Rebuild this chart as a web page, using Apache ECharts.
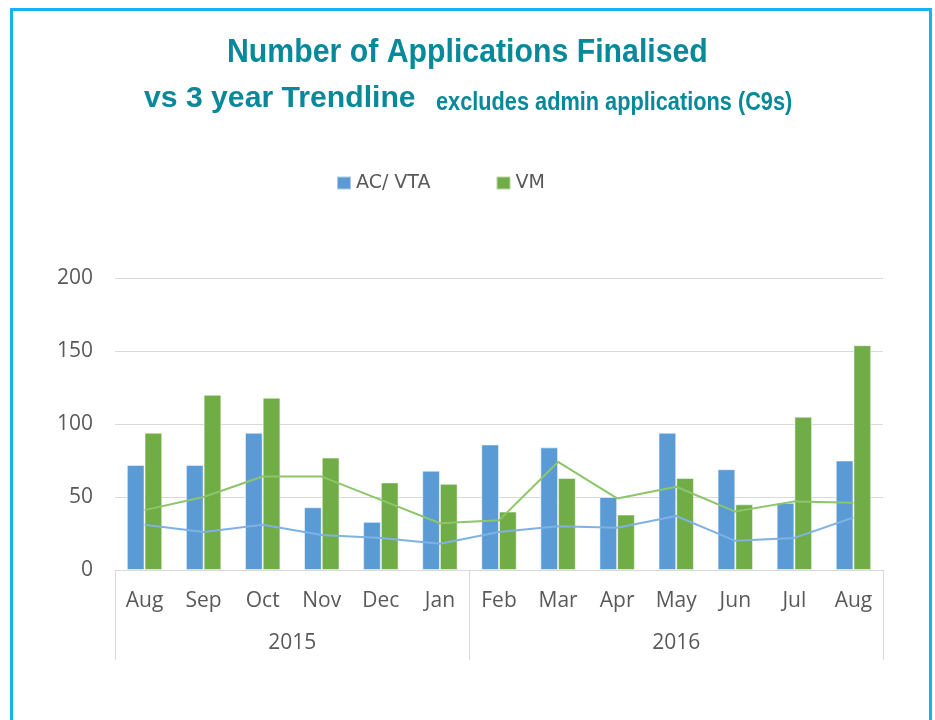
<!DOCTYPE html>
<html>
<head>
<meta charset="utf-8">
<script src="https://cdn.jsdelivr.net/npm/echarts@6/dist/echarts.min.js"></script>
<style>
html,body{margin:0;padding:0;background:#fff;}
#chart{width:935px;height:720px;}
</style>
</head>
<body>
<div id="chart"></div>
<script>
// ---- data ----
var months = ['Aug','Sep','Oct','Nov','Dec','Jan','Feb','Mar','Apr','May','Jun','Jul','Aug'];
var years = ['2015','2016'];
var yearSizes = [6, 7];
var acVta = [72,72,94,43,33,68,86,84,50,94,69,46,75];
var vm = [94,120,118,77,60,59,40,63,38,63,45,105,154];
var acVtaTrend = [31,26,31,24,22,18,26,30,29,37,20,22,36];
var vmTrend = [41,50,64,64,48,32,34,74,49,57,40,47,46];
var yTicks = [0,50,100,150,200];
var titleLine1 = 'Number of Applications Finalised';
var titleLine2 = 'vs 3 year Trendline';
var subtitle = 'excludes admin applications (C9s)';

// group boundaries & centres for the year axis
var bounds = [0], centres = [], acc = 0;
yearSizes.forEach(function(n){ centres.push(acc + n/2); acc += n; bounds.push(acc); });

var gray = '#595959';
var teal = '#07899a';
var tFont = '"Liberation Sans",Arial,sans-serif';
var chart = echarts.init(document.getElementById('chart'));
chart.setOption({
  animation: false,
  backgroundColor: '#fff',
  graphic: [{
    type: 'rect', shape: {x: 11.5, y: 9.5, width: 919, height: 740},
    style: {fill: 'none', stroke: '#12b5ee', lineWidth: 3}, silent: true
  }, {
    type: 'text', x: 227, y: 53, scaleX: 0.89,
    style: {text: titleLine1, font: 'bold 34px ' + tFont, fill: teal, textAlign: 'left', textVerticalAlign: 'middle', verticalAlign: 'middle'}
  }, {
    type: 'text', x: 144, y: 98.5, scaleX: 1.04,
    style: {text: titleLine2, font: 'bold 29px ' + tFont, fill: teal, textAlign: 'left', textVerticalAlign: 'middle', verticalAlign: 'middle'}
  }, {
    type: 'text', x: 436, y: 103, scaleX: 0.82,
    style: {text: subtitle, font: 'bold 26.5px ' + tFont, fill: teal, textAlign: 'left', textVerticalAlign: 'middle', verticalAlign: 'middle'}
  }],
  legend: {
    left: 336, top: 173.5, padding: 0, itemWidth: 14, itemHeight: 13, itemGap: 65, icon: 'rect',
    data: ['AC/ VTA', 'VM'],
    textStyle: {fontFamily: '"DejaVu Sans",sans-serif', fontSize: 19, color: gray}
  },
  grid: {left: 115, right: 52, top: 278, bottom: 150},
  xAxis: [{
    type: 'category', data: months, position: 'bottom',
    axisLine: {show: true, lineStyle: {color: '#d9d9d9', width: 1}},
    axisTick: {show: false},
    axisLabel: {fontFamily: '"Open Sans",sans-serif', fontSize: 21, color: gray, margin: 21, interval: 0}
  }, {
    type: 'value', min: 0, max: months.length, position: 'bottom',
    axisLine: {show: false},
    splitLine: {show: false},
    axisTick: {show: true, customValues: bounds, length: 90, lineStyle: {color: '#d9d9d9'}},
    axisLabel: {show: true, customValues: centres, margin: 63, fontFamily: '"Open Sans",sans-serif', fontSize: 21, color: gray,
      formatter: function(v){ var i = centres.indexOf(v); return i >= 0 ? years[i] : ''; }}
  }],
  yAxis: {
    type: 'value', min: yTicks[0], max: yTicks[yTicks.length-1], interval: 50,
    axisLine: {show: false}, axisTick: {show: false},
    splitLine: {lineStyle: {color: '#d9d9d9', width: 1}},
    axisLabel: {fontFamily: '"Open Sans",sans-serif', fontSize: 21, color: gray, margin: 22}
  },
  series: [{
    name: 'AC/ VTA', type: 'bar', data: acVta, barGap: 0, barCategoryGap: '40%',
    itemStyle: {color: '#5b9bd5', borderColor: 'rgba(255,255,255,0.5)', borderWidth: 1}, z: 2
  }, {
    name: 'VM', type: 'bar', data: vm,
    itemStyle: {color: '#70ad47', borderColor: 'rgba(255,255,255,0.5)', borderWidth: 1}, z: 2
  }, {
    name: 'AC/ VTA trend', type: 'line', data: acVtaTrend, symbol: 'none', z: 3,
    lineStyle: {color: '#7fb2e2', width: 2}
  }, {
    name: 'VM trend', type: 'line', data: vmTrend, symbol: 'none', z: 3,
    lineStyle: {color: '#8cc56a', width: 2}
  }]
});
</script>
</body>
</html>
